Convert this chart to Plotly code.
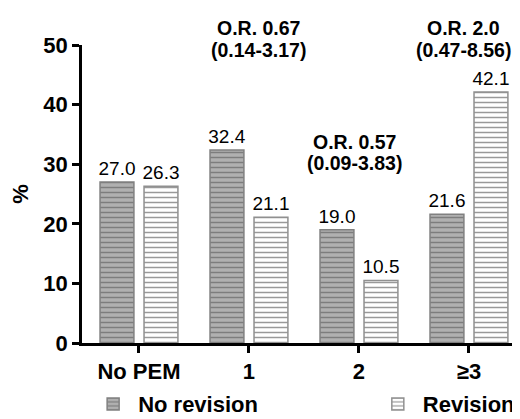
import plotly.graph_objects as go

categories = ["No PEM", "1", "2", "≥3"]
no_revision = [27.0, 32.4, 19.0, 21.6]
revision = [26.3, 21.1, 10.5, 42.1]
or_values = ["", "O.R. 0.67", "O.R. 0.57", "O.R. 2.0"]
or_ci = ["", "(0.14-3.17)", "(0.09-3.83)", "(0.47-8.56)"]
y_ticks = [0, 10, 20, 30, 40, 50]

# annotation placement (layout only, in axis units)
or_line1_y = [None, 52.8, 33.7, 52.8]
or_line2_y = [None, 49.2, 30.2, 49.2]
or_xshift = [0, 10, -4, -5]

FONT = "Liberation Sans, Arial, Helvetica, sans-serif"
xi = list(range(len(categories)))
Y_MAX = 50

fig = go.Figure()
fig.add_trace(go.Bar(
    x=xi, y=no_revision, name="<b>No revision</b>",
    text=[f"{v:.1f}" for v in no_revision], textposition="outside",
    textfont=dict(family=FONT, size=19, color="black"),
    constraintext="none", cliponaxis=False,
    marker=dict(color="#b0b0b0", line=dict(color="#808080", width=1.5),
                pattern=dict(shape="-", fgcolor="#4a4a4a", bgcolor="#b0b0b0", size=5, solidity=0.3)),
    legend="legend",
))
fig.add_trace(go.Bar(
    x=xi, y=revision, name="<b>Revision</b>",
    text=[f"{v:.1f}" for v in revision], textposition="outside",
    textfont=dict(family=FONT, size=19, color="black"),
    constraintext="none", cliponaxis=False,
    marker=dict(color="white", line=dict(color="#909090", width=1.5),
                pattern=dict(shape="-", fgcolor="#333333", bgcolor="white", size=5, solidity=0.3)),
    legend="legend2",
))

for i in xi:
    if not or_values[i]:
        continue
    for txt, yy in ((or_values[i], or_line1_y[i]), (or_ci[i], or_line2_y[i])):
        fig.add_annotation(x=i, y=yy / Y_MAX, xref="x", yref="paper", text=f"<b>{txt}</b>",
                           showarrow=False, xshift=or_xshift[i], xanchor="center", yanchor="middle",
                           font=dict(family=FONT, size=19.5, color="black"))

fig.update_layout(
    width=520, height=419,
    margin=dict(l=74, r=8, t=37, b=84, autoexpand=False),
    paper_bgcolor="white", plot_bgcolor="white",
    barmode="group", bargap=0.2, bargroupgap=0.23,
    font=dict(family=FONT, color="black"),
    legend=dict(orientation="h", x=0.014, y=-0.205, xanchor="left", yanchor="middle",
                font=dict(family=FONT, size=22, color="black"), itemwidth=40,
                bgcolor="rgba(0,0,0,0)"),
    legend2=dict(orientation="h", x=0.664, y=-0.205, xanchor="left", yanchor="middle",
                 font=dict(family=FONT, size=22, color="black"), itemwidth=40,
                 bgcolor="rgba(0,0,0,0)"),
    showlegend=True,
)

fig.update_xaxes(
    range=[-0.518, 3.464], tickvals=xi, ticktext=[f"<b>{c}</b>" for c in categories],
    showline=True, linecolor="black", linewidth=2.5,
    ticks="outside", ticklen=7, tickwidth=2.5, tickcolor="black",
    tickfont=dict(family=FONT, size=22, color="black"),
    showgrid=False, zeroline=False, automargin=False,
)
fig.update_yaxes(
    range=[0, Y_MAX], tickvals=y_ticks, ticktext=[f"<b>{v}</b>" for v in y_ticks],
    showline=True, linecolor="black", linewidth=2.5,
    ticks="outside", ticklen=7, tickwidth=2.5, tickcolor="black",
    tickfont=dict(family=FONT, size=22, color="black"),
    title=dict(text="<b>%</b>", font=dict(family=FONT, size=22, color="black"), standoff=12),
    showgrid=False, zeroline=False, automargin=False,
)

fig.write_html("out.html")
